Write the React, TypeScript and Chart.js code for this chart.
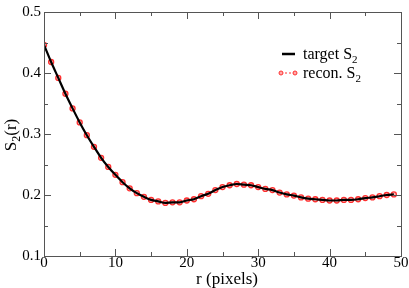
import React, { useEffect, useRef } from "react";
import { Chart, registerables } from "chart.js";

Chart.register(...registerables);

const rValues = [
  0, 1, 2, 3, 4, 5, 6, 7, 8, 9, 10, 11, 12, 13, 14, 15, 16, 17, 18, 19, 20, 21, 22, 23, 24,
  25, 26, 27, 28, 29, 30, 31, 32, 33, 34, 35, 36, 37, 38, 39, 40, 41, 42, 43, 44, 45, 46, 47, 48, 49,
];
const targetS2 = [
  0.446, 0.418, 0.392, 0.366, 0.342, 0.319, 0.298, 0.279, 0.261, 0.246,
  0.233, 0.221, 0.211, 0.203, 0.197, 0.192, 0.1895, 0.187, 0.188, 0.188,
  0.191, 0.193, 0.198, 0.202, 0.208, 0.213, 0.216, 0.218, 0.217, 0.216,
  0.213, 0.21, 0.208, 0.204, 0.201, 0.199, 0.196, 0.194, 0.193, 0.192,
  0.191, 0.191, 0.192, 0.192, 0.193, 0.195, 0.196, 0.198, 0.2, 0.201,
];
const reconS2 = [
  0.446, 0.418, 0.392, 0.366, 0.342, 0.319, 0.298, 0.279, 0.261, 0.246,
  0.233, 0.221, 0.211, 0.203, 0.197, 0.192, 0.1895, 0.187, 0.188, 0.188,
  0.191, 0.193, 0.198, 0.202, 0.208, 0.213, 0.216, 0.218, 0.217, 0.216,
  0.213, 0.21, 0.208, 0.204, 0.201, 0.199, 0.196, 0.194, 0.193, 0.192,
  0.191, 0.191, 0.192, 0.192, 0.193, 0.195, 0.196, 0.198, 0.2, 0.201,
];
const xMajorTicks = [0, 10, 20, 30, 40, 50];
const xMinorTicks = [5, 15, 25, 35, 45];
const yMajorTicks = [0.1, 0.2, 0.3, 0.4, 0.5];
const yMinorTicks = [0.15, 0.25, 0.35, 0.45];
const legendLabels = ["target S", "recon. S"];
const xTitle = "r (pixels)";

const FONT = "'Liberation Serif', 'DejaVu Serif', serif";
const FRAME = "#555555";

const decorPlugin = {
  id: "decor",
  afterDraw(chart: any) {
    const ctx = chart.ctx as CanvasRenderingContext2D;
    const { left, right, top, bottom } = chart.chartArea;
    const xs = chart.scales.x;
    const ys = chart.scales.y;
    ctx.save();
    ctx.strokeStyle = FRAME;
    ctx.lineWidth = 1;
    ctx.strokeRect(Math.round(left) + 0.5, Math.round(top) + 0.5, Math.round(right - left), Math.round(bottom - top));
    const drawX = (v: number, len: number) => {
      const px = Math.round(xs.getPixelForValue(v)) + 0.5;
      ctx.beginPath();
      ctx.moveTo(px, bottom);
      ctx.lineTo(px, bottom - len);
      ctx.moveTo(px, top);
      ctx.lineTo(px, top + len);
      ctx.stroke();
    };
    const drawY = (v: number, len: number) => {
      const py = Math.round(ys.getPixelForValue(v)) + 0.5;
      ctx.beginPath();
      ctx.moveTo(left, py);
      ctx.lineTo(left + len, py);
      ctx.moveTo(right, py);
      ctx.lineTo(right - len, py);
      ctx.stroke();
    };
    xMajorTicks.forEach((v) => drawX(v, 7));
    xMinorTicks.forEach((v) => drawX(v, 4));
    yMajorTicks.forEach((v) => drawY(v, 7));
    yMinorTicks.forEach((v) => drawY(v, 4));

    ctx.fillStyle = "#000";
    ctx.font = `17px ${FONT}`;
    ctx.textAlign = "center";
    ctx.textBaseline = "middle";
    ctx.fillText(xTitle, 227, 280);

    ctx.save();
    ctx.translate(10, 135);
    ctx.rotate(-Math.PI / 2);
    ctx.textBaseline = "alphabetic";
    ctx.textAlign = "left";
    ctx.font = `17px ${FONT}`;
    const wS = ctx.measureText("S").width;
    ctx.font = `12px ${FONT}`;
    const w2 = ctx.measureText("2").width;
    ctx.font = `17px ${FONT}`;
    const wR = ctx.measureText("(r)").width;
    const total = wS + w2 + wR;
    const x0 = -total / 2;
    ctx.fillText("S", x0, 6);
    ctx.font = `12px ${FONT}`;
    ctx.fillText("2", x0 + wS, 10);
    ctx.font = `17px ${FONT}`;
    ctx.fillText("(r)", x0 + wS + w2, 6);
    ctx.restore();

    const lx1 = 281, lx2 = 295, tx = 303;
    const ly1 = 54, ly2 = 73;
    ctx.strokeStyle = "#000";
    ctx.lineWidth = 2.5;
    ctx.beginPath();
    ctx.moveTo(lx1 + 1, ly1);
    ctx.lineTo(lx2, ly1);
    ctx.stroke();

    ctx.strokeStyle = "#ff3030";
    ctx.lineWidth = 1;
    ctx.setLineDash([2, 2]);
    ctx.beginPath();
    ctx.moveTo(lx1, ly2);
    ctx.lineTo(lx2, ly2);
    ctx.stroke();
    ctx.setLineDash([]);
    [lx1, lx2].forEach((cx) => {
      ctx.beginPath();
      ctx.arc(cx, ly2, 2, 0, Math.PI * 2);
      ctx.fillStyle = "#ffaaaa";
      ctx.fill();
      ctx.stroke();
    });

    ctx.fillStyle = "#000";
    ctx.textAlign = "left";
    ctx.textBaseline = "alphabetic";
    [ly1, ly2].forEach((ly, i) => {
      ctx.font = `16px ${FONT}`;
      const w = ctx.measureText(legendLabels[i]).width;
      ctx.fillText(legendLabels[i], tx, ly + 5);
      ctx.font = `11px ${FONT}`;
      ctx.fillText("2", tx + w, ly + 9);
    });
    ctx.restore();
  },
};

export default function App() {
  const ref = useRef<HTMLCanvasElement | null>(null);
  useEffect(() => {
    if (!ref.current) return;
    const chart = new Chart(ref.current, {
      type: "line",
      data: {
        datasets: [
          {
            label: "target S2",
            data: rValues.map((r, i) => ({ x: r, y: targetS2[i] })),
            borderColor: "#000",
            borderWidth: 2.2,
            pointRadius: 0,
            cubicInterpolationMode: "monotone",
          },
          {
            label: "recon. S2",
            data: rValues.map((r, i) => ({ x: r, y: reconS2[i] })),
            borderColor: "rgba(255,40,40,0.8)",
            borderWidth: 1,
            borderDash: [2, 2],
            pointRadius: 2.5,
            pointBorderWidth: 1.3,
            pointBorderColor: "#ff3030",
            pointBackgroundColor: "rgba(255,140,140,0.6)",
            tension: 0,
          },
        ],
      },
      options: {
        animation: false,
        responsive: false,
        maintainAspectRatio: false,
        layout: { padding: { top: 6, right: 8, left: 0, bottom: 0 } },
        plugins: { legend: { display: false }, tooltip: { enabled: false } },
        scales: {
          x: {
            type: "linear",
            min: 0,
            max: 50,
            afterBuildTicks: (s: any) => {
              s.ticks = xMajorTicks.map((v) => ({ value: v }));
            },
            afterFit: (s: any) => {
              s.height = 32;
            },
            grid: { display: false, drawTicks: false },
            border: { display: false },
            ticks: {
              color: "#000",
              font: { family: FONT, size: 15 },
              padding: -2,
              maxRotation: 0,
              autoSkip: false,
            },
          },
          y: {
            type: "linear",
            min: 0.1,
            max: 0.5,
            afterBuildTicks: (s: any) => {
              s.ticks = yMajorTicks.map((v) => ({ value: v }));
            },
            afterFit: (s: any) => {
              s.width = 44;
            },
            grid: { display: false, drawTicks: false },
            border: { display: false },
            ticks: {
              color: "#000",
              font: { family: FONT, size: 15 },
              padding: 3,
              callback: (v: any) => Number(v).toFixed(1),
            },
          },
        },
      },
      plugins: [decorPlugin],
    } as any);
    return () => chart.destroy();
  }, []);
  return (
    <div style={{ position: "absolute", left: 0, top: 0, width: 409, height: 288, background: "#fff" }}>
      <canvas ref={ref} width={409} height={288} style={{ width: 409, height: 288, display: "block" }} />
    </div>
  );
}
